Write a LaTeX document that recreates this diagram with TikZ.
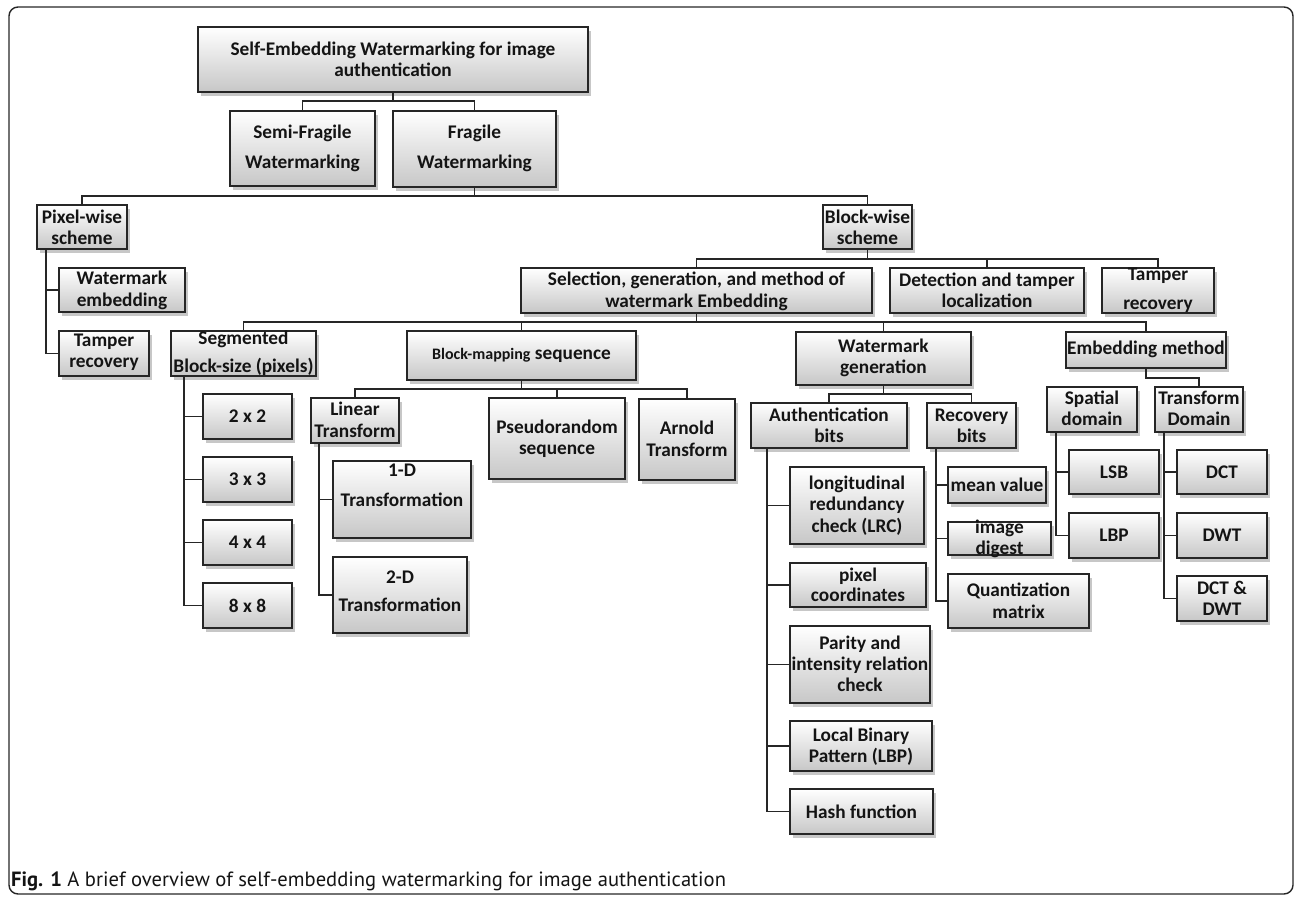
\documentclass[tikz,border=0pt]{standalone}
\usepackage{fontspec}
\setmainfont{Carlito}
\newfontfamily\capfont{PT Sans}
\usetikzlibrary{shadows}
% \bx{name}{x1}{y1}{x2}{y2}{text y}{line spacing}{text}
\newcommand{\bx}[8]{%
  \node[wbox, minimum width={(#4)-(#2)}, minimum height={(#5)-(#3)}] (#1) at ({((#2)+(#4))/2},{((#3)+(#5))/2}) {};
  \node[txt, font={\bfseries\fontsize{19.3}{#7}\selectfont}] (#1t) at ({((#2)+(#4))/2},#6) {#8};}
\begin{document}
\begin{tikzpicture}[x=1pt,y=-1pt,
  wbox/.style={draw=black!85, line width=1.5pt, top color=white, bottom color=black!22, inner sep=0pt,
    drop shadow={shadow xshift=2.5pt, shadow yshift=-3.5pt, opacity=0.22, fill=black}},
  txt/.style={inner sep=0pt, align=center, text=black!92},
  conn/.style={draw=black!85, line width=1.6pt}]
\useasboundingbox (0,0) rectangle (1296,897);
\draw[draw=black!85, line width=1.4pt, rounded corners=9pt] (9,7) rectangle (1293,894);

\bx{top}{198}{27}{588}{92}{59.5}{21}{Self-Embedding Watermarking for image\\authentication}
\bx{semi}{230}{111}{375}{186}{148}{30}{Semi-Fragile\\Watermarking}
\bx{frag}{393}{111}{556}{187}{148}{30}{Fragile\\Watermarking}
\bx{pix}{37}{205}{127}{249}{227.5}{21}{Pixel-wise\\scheme}
\bx{blk}{823}{205}{912}{249}{227}{21}{Block-wise\\scheme}
\bx{wme}{59}{268}{185}{312}{290}{22}{Watermark\\embedding}
\bx{trl}{59}{331}{149}{376}{352.5}{21}{Tamper\\recovery}
\bx{sel}{521}{268}{872}{313}{291}{22}{Selection, generation, and method of\\watermark Embedding}
\bx{det}{890}{268}{1084}{313}{290.5}{21}{Detection and tamper\\localization}
\bx{trr}{1102}{268}{1214}{313}{290.5}{29}{Tamper\\recovery}
\bx{seg}{171}{331}{316}{376}{353}{28}{Segmented\\Block-size (pixels)}
\bx{bms}{407}{331}{636}{380}{355}{20}{{\fontsize{16}{16}\selectfont Block-mapping} sequence}
\bx{wmg}{796}{332}{971}{385}{357.5}{21}{Watermark\\generation}
\bx{emb}{1066}{332}{1226}{368}{349}{20}{Embedding method}
\bx{lin}{311}{398}{399}{443}{420}{22}{Linear\\Transform}
\bx{pse}{489}{398}{625}{479}{438.5}{21}{Pseudorandom\\sequence}
\bx{arn}{639}{399}{735}{480}{439}{22}{Arnold\\Transform}
\bx{da}{333}{461}{471}{538}{485}{30}{1-D\\Transformation}
\bx{db}{333}{557}{467}{633}{591}{28}{2-D\\Transformation}
\bx{sa}{203}{394}{292}{439}{416.5}{20}{2 x 2}
\bx{sb}{203}{457}{292}{502}{479.5}{20}{3 x 3}
\bx{sc}{203}{520}{292}{565}{542.5}{20}{4 x 4}
\bx{sd}{203}{583}{292}{628}{605.5}{20}{8 x 8}
\bx{auth}{751}{403}{907}{448}{425.5}{21}{Authentication\\bits}
\bx{recb}{927}{403}{1016}{448}{425.5}{21}{Recovery\\bits}
\bx{lrc}{790}{467}{924}{544}{505.5}{21.5}{longitudinal\\redundancy\\check (LRC)}
\bx{pxc}{790}{563}{926}{607}{585}{20}{pixel\\coordinates}
\bx{par}{790}{626}{930}{703}{664}{21}{Parity and\\intensity relation\\check}
\bx{lbp}{790}{721}{932}{771}{746.5}{21}{Local Binary\\Pattern (LBP)}
\bx{hash}{790}{789}{933}{834}{811.5}{20}{Hash function}
\bx{mean}{948}{467}{1046}{503}{485}{20}{mean value}
\bx{dig}{948}{522}{1051}{555}{538.5}{21}{image\\digest}
\bx{qua}{948}{574}{1089}{628}{601}{22}{Quantization\\matrix}
\bx{spat}{1047}{387}{1137}{432}{408.5}{21}{Spatial\\domain}
\bx{tdom}{1155}{387}{1243}{432}{408.5}{21}{Transform\\Domain}
\bx{lsb}{1069}{450}{1159}{494}{472}{20}{LSB}
\bx{lbpb}{1069}{513}{1159}{558}{535.5}{20}{LBP}
\bx{dct}{1177}{450}{1267}{494}{472}{20}{DCT}
\bx{dwt}{1177}{513}{1267}{558}{535.5}{20}{DWT}
\bx{dcdw}{1177}{576}{1267}{621}{598.5}{21}{DCT \&\\DWT}

% bus connectors
\draw[conn] (top.south) -- (top.south |- 0,101) -| (semi.north);
\draw[conn] (top.south |- 0,101) -| (frag.north);
\draw[conn] (frag.south) -- (frag.south |- 0,196) -| (pix.north);
\draw[conn] (frag.south |- 0,196) -| (blk.north);
\draw[conn] (blk.south) -- (blk.south |- 0,259) -| (sel.north);
\draw[conn] (blk.south |- 0,259) -| (det.north);
\draw[conn] (blk.south |- 0,259) -| (trr.north);
\draw[conn] (sel.south) -- (sel.south |- 0,322) -| (seg.north);
\draw[conn] (sel.south |- 0,322) -| (bms.north);
\draw[conn] (sel.south |- 0,322) -| (wmg.north);
\draw[conn] (sel.south |- 0,322) -| (emb.north);
\draw[conn] (bms.south) -- (bms.south |- 0,389) -| (lin.north);
\draw[conn] (bms.south |- 0,389) -| (pse.north);
\draw[conn] (bms.south |- 0,389) -| (arn.north);
\draw[conn] (wmg.south) -- (wmg.south |- 0,394) -| (auth.north);
\draw[conn] (wmg.south |- 0,394) -| (recb.north);
\draw[conn] (emb.south) -- (emb.south |- 0,378) -| (tdom.north);

% side-tree connectors
\draw[conn] (pix.south -| 46,0) |- (wme.west);
\draw[conn] (pix.south -| 46,0) |- (trl.west);
\draw[conn] (seg.south -| 184,0) |- (sa.west);
\draw[conn] (seg.south -| 184,0) |- (sb.west);
\draw[conn] (seg.south -| 184,0) |- (sc.west);
\draw[conn] (seg.south -| 184,0) |- (sd.west);
\draw[conn] (lin.south -| 319,0) |- (da.west);
\draw[conn] (lin.south -| 319,0) |- (db.west);
\draw[conn] (auth.south -| 767,0) |- (lrc.west);
\draw[conn] (auth.south -| 767,0) |- (pxc.west);
\draw[conn] (auth.south -| 767,0) |- (par.west);
\draw[conn] (auth.south -| 767,0) |- (lbp.west);
\draw[conn] (auth.south -| 767,0) |- (hash.west);
\draw[conn] (recb.south -| 936,0) |- (mean.west);
\draw[conn] (recb.south -| 936,0) |- (dig.west);
\draw[conn] (recb.south -| 936,0) |- (qua.west);
\draw[conn] (spat.south -| 1056,0) |- (lsb.west);
\draw[conn] (spat.south -| 1056,0) |- (lbpb.west);
\draw[conn] (tdom.south -| 1164,0) |- (dct.west);
\draw[conn] (tdom.south -| 1164,0) |- (dwt.west);
\draw[conn] (tdom.south -| 1164,0) |- (dcdw.west);

\node[anchor=base west, inner sep=0pt, text=black!92, font={\capfont\fontsize{20.6}{24}\selectfont}] (cap) at (11,886)
  {\textbf{Fig. 1} A brief overview of self-embedding watermarking for image authentication};
\end{tikzpicture}
\end{document}
